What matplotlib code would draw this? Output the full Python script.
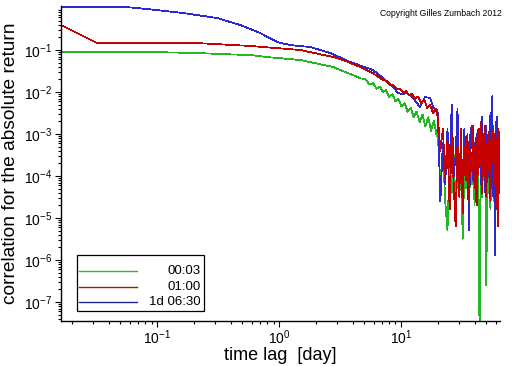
import matplotlib
matplotlib.use("Agg")
import matplotlib.pyplot as plt
from matplotlib.ticker import LogLocator, LogFormatterSciNotation, NullFormatter
from matplotlib.patches import Rectangle
from matplotlib.lines import Line2D

plt.rcParams['font.family'] = ['Liberation Sans', 'DejaVu Sans']
plt.rcParams['mathtext.fontset'] = 'custom'
plt.rcParams['mathtext.rm'] = 'Liberation Sans'

# ---------------- data (time lag in days, correlation) ----------------
green_x = [0.0163, 0.0877, 0.205, 0.42, 0.578, 0.797, 1.49, 2.77, 4.7,
           5.1, 5.5, 5.9, 6.3, 6.7, 7.1, 7.5, 8.0, 8.5, 9.0, 9.5, 10.1, 10.7,
           11.3, 12.0, 12.7, 13.4, 14.2, 15.0, 15.8, 16.7, 17.6, 18.6, 19.6]
green_y = [0.0896, 0.0896, 0.0849, 0.0782, 0.076, 0.068, 0.0578, 0.0394, 0.021,
           0.0205, 0.0150, 0.0162, 0.0120, 0.0135, 0.0100, 0.0112, 0.0077, 0.0088,
           0.0060, 0.0070, 0.0045, 0.0054, 0.0034, 0.0042, 0.0025, 0.0034, 0.0019,
           0.0029, 0.0015, 0.0025, 0.0012, 0.0021, 0.0009]

red_x = [0.0163, 0.0322, 0.205, 0.578, 1.49, 2.77, 3.35, 4.62, 5.9, 7.1,
         7.6, 8.1, 8.6, 9.1, 9.8, 10.4, 11.0, 11.6, 12.3, 13.0, 13.8, 14.6,
         15.5, 16.4, 17.3, 18.3, 19.2]
red_y = [0.394, 0.147, 0.147, 0.125, 0.100, 0.068, 0.0578, 0.0394, 0.028, 0.0193,
         0.0185, 0.0145, 0.0150, 0.0120, 0.0118, 0.0098, 0.0105, 0.0082, 0.0092,
         0.0068, 0.0078, 0.0055, 0.0064, 0.0042, 0.0050, 0.0031, 0.0040]

blue_x = [0.0163, 0.0547, 0.0877, 0.163, 0.31, 0.479, 0.698, 0.964, 1.23, 1.80,
          2.62, 3.82, 5.89, 7.11, 8.59, 9.44, 10.3, 11.2, 12.5, 14.3, 15.7,
          17.3, 18.3, 19.7]
blue_y = [1.06, 1.06, 0.93, 0.76, 0.578, 0.394, 0.254, 0.155, 0.131, 0.118,
          0.085, 0.052, 0.0334, 0.0215, 0.0132, 0.0095, 0.0088, 0.0095, 0.0072,
          0.0044, 0.0076, 0.0072, 0.0044, 0.0037]

# noisy long-lag tail (days 20 .. 64)
tail_x = [20, 21, 22, 23, 24, 25, 26, 27, 28, 29, 30, 31, 32, 33, 34, 35, 36,
          37, 38, 39, 40, 41, 42, 43, 44, 45, 46, 47, 48, 49, 50, 51, 52, 53,
          54, 55, 56, 57, 58, 59, 60, 61, 62, 63, 64]
green_tail = [1.0e-3, 6.3e-5, 5.0e-4, 2.5e-5, 5.0e-6, 2.5e-4, 4.0e-5, 3.2e-4,
              1.6e-5, 1.3e-4, 3.2e-5, 2.0e-4, 3.2e-6, 1.6e-4, 5.0e-5, 3.2e-4,
              1.3e-5, 2.5e-4, 6.3e-5, 4.0e-4, 2.0e-5, 1.3e-4, 4.0e-5, 2.5e-4,
              1.0e-8, 2.0e-4, 3.2e-5, 4.0e-4, 7.9e-5, 1.6e-4, 2.5e-7, 2.5e-4,
              4.0e-5, 3.2e-4, 1.6e-5, 2.0e-4, 6.3e-5, 5.0e-4, 2.5e-5, 3.2e-4,
              1.0e-4, 4.0e-4, 3.2e-5, 2.5e-4, 7.9e-5]
red_tail = [2.5e-3, 4.0e-4, 1.3e-3, 1.0e-4, 7.9e-4, 1.6e-5, 1.0e-3, 6.3e-5,
            6.3e-6, 6.3e-4, 3.2e-5, 1.3e-3, 1.3e-5, 5.0e-4, 7.9e-5, 1.0e-3,
            2.5e-5, 4.0e-4, 1.3e-4, 1.6e-3, 5.0e-5, 7.9e-4, 2.0e-5, 1.3e-3,
            1.6e-4, 2.0e-3, 4.0e-5, 1.0e-3, 1.0e-4, 1.6e-3, 3.2e-5, 6.3e-4,
            1.3e-4, 1.3e-3, 2.5e-5, 7.9e-4, 2.0e-4, 1.3e-3, 6.3e-5, 1.0e-3,
            1.6e-5, 7.9e-4, 6.3e-6, 1.3e-3, 4.0e-5]
blue_tail = [3.2e-3, 2.5e-5, 6.3e-4, 6.3e-5, 1.3e-3, 1.6e-4, 5.0e-3, 1.0e-4,
             3.2e-4, 4.0e-3, 5.0e-5, 7.9e-4, 3.2e-5, 1.3e-3, 1.3e-4, 5.0e-4,
             5.0e-6, 1.0e-3, 1.6e-3, 7.9e-5, 6.3e-4, 2.5e-5, 1.0e-3, 2.0e-4,
             1.3e-3, 6.3e-5, 2.5e-3, 1.3e-4, 7.9e-4, 4.0e-5, 1.6e-3, 2.5e-4,
             1.0e-3, 7.9e-5, 3.2e-3, 1.6e-4, 7.9e-3, 3.2e-5, 6.3e-4, 1.3e-6,
             1.6e-3, 2.5e-3, 6.3e-5, 1.0e-3, 1.3e-4]

labels = ["00:03", "01:00", "1d 06:30"]
colors = ["#22b822", "#c40000", "#2a2ad0"]
legend_colors = ["#2fb52f", "#a81414", "#25259a"]

# ---------------- figure ----------------
fig = plt.figure(figsize=(5.12, 3.66), dpi=100)
AX_L, AX_B, AX_W, AX_H = 61, 321, 439, 315
ax = fig.add_axes([AX_L/512, 1-AX_B/366, AX_W/512, AX_H/366])

series = [(green_x + tail_x, green_y + green_tail),
          (red_x + tail_x, red_y + red_tail),
          (blue_x + tail_x, blue_y + blue_tail)]
zorders = [2.0, 2.2, 2.1]
for (xs, ys), c, lab, z in zip(series, colors, labels, zorders):
    ax.plot(xs, ys, color=c, lw=0.55, label=lab, antialiased=False, zorder=z)

ax.set_xscale('log')
ax.set_yscale('log')
ax.set_xlim(0.0163, 64.7)
ax.set_ylim(3.53e-8, 1.116)

ax.yaxis.set_major_locator(plt.FixedLocator([1e-7, 1e-6, 1e-5, 1e-4, 1e-3, 1e-2, 1e-1]))
ax.yaxis.set_major_formatter(LogFormatterSciNotation())
ax.yaxis.set_minor_locator(LogLocator(base=10, subs=range(2, 10), numticks=20))
ax.yaxis.set_minor_formatter(NullFormatter())
ax.xaxis.set_major_locator(LogLocator(base=10, numticks=10))
ax.xaxis.set_minor_locator(LogLocator(base=10, subs=range(2, 10), numticks=20))
ax.xaxis.set_minor_formatter(NullFormatter())

for s in ['top', 'right']:
    ax.spines[s].set_visible(False)
for s in ['left', 'bottom']:
    ax.spines[s].set_linewidth(1.0)
ax.tick_params(which='major', direction='out', length=4.5, width=0.8, labelsize=10, pad=2)
ax.tick_params(axis='x', which='major', pad=0.5)
ax.tick_params(which='minor', direction='out', length=2.5, width=0.8)

ax.set_xlabel("time lag  [day]", fontsize=13, labelpad=0)
ax.set_ylabel("correlation for the absolute return", fontsize=13.8, labelpad=3)

# legend box (drawn in axes coordinates)
def axc(px, py):
    return ((px - AX_L) / AX_W, (AX_B - py) / AX_H)

x0, y0 = axc(77, 311)
x1, y1 = axc(204, 255)
ax.add_patch(Rectangle((x0, y0), x1 - x0, y1 - y0, transform=ax.transAxes,
                       facecolor='white', edgecolor='black', lw=0.9, zorder=5))
for i, (lab, c) in enumerate(zip(labels, legend_colors)):
    py = [271, 287, 302][i]
    lx0, ly = axc(79, py)
    lx1, _ = axc(137, py)
    ax.add_line(Line2D([lx0, lx1], [ly, ly], transform=ax.transAxes, color=c,
                       lw=1.0, zorder=6))
    tx, _ = axc(201, py)
    ax.text(tx, ly, lab, transform=ax.transAxes, ha='right', va='center',
            fontsize=9.5, zorder=6)

fig.text(502/512, 1-13/366, "Copyright Gilles Zumbach 2012", ha='right',
         va='center', fontsize=6.2)

fig.savefig("out.png", dpi=100)
